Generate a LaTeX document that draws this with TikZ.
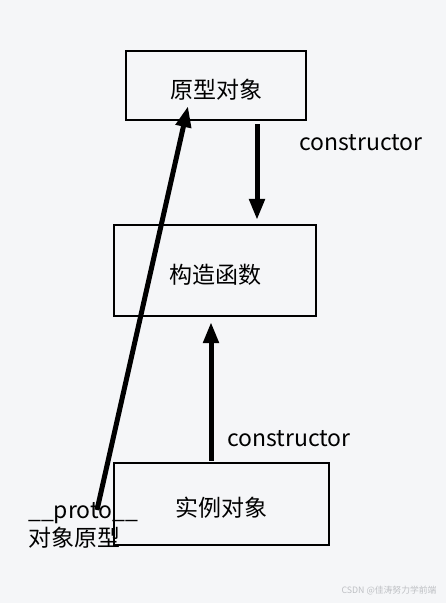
\documentclass[tikz,border=0pt]{standalone}
\usepackage{fontspec}
\usepackage{tikz}
\usetikzlibrary{arrows.meta}
\setmainfont{Noto Sans CJK SC}
\definecolor{protobg}{RGB}{245,246,248}
\definecolor{protomark}{RGB}{190,192,196}

\begin{document}
\begin{tikzpicture}[x=1pt,y=-1pt,
    box/.style={draw,line width=2.2pt,inner sep=0pt,text height=29pt,text depth=4pt,font=\fontsize{23}{26}\selectfont},
    arr/.style={line width=5pt,-{Triangle[length=21pt,width=15pt]}},
    lbl/.style={font=\fontsize{23}{28}\selectfont,inner sep=0pt}]
  \fill[protobg] (0,0) rectangle (446,603);
  \useasboundingbox (0,0) rectangle (446,603);
  \node[box,minimum width=180pt,minimum height=69pt] (proto) at (216,85.5) {原型对象};
  \node[box,minimum width=202pt,minimum height=91pt] (ctor) at (215,270.5) {构造函数};
  \node[box,minimum width=215pt,minimum height=82pt] (inst) at (221.5,504) {实例对象};
  \node[lbl] (ctorlbl1) at (361,143) {constructor};
  \node[lbl] (ctorlbl2) at (289,439) {constructor};
  \node[lbl,anchor=north west,align=left] (protolbl) at (28,502) {\_\_proto\_\_\\对象原型};
  \coordinate (pstart) at (97,510);
  \draw[arr] ([xshift=41pt,yshift=-3pt]proto.south) -- ([xshift=42pt,yshift=4pt]ctor.north);
  \draw[arr] ([xshift=-10.5pt,yshift=1pt]inst.north) -- ([xshift=-4pt,yshift=-5pt]ctor.south);
  \draw[arr] (pstart) -- ([xshift=-28pt,yshift=15pt]proto.south);
  \node[font=\fontsize{8.8}{10}\selectfont,text=protomark,inner sep=0pt] (mark) at (389,591) {CSDN @佳涛努力学前端};
\end{tikzpicture}
\end{document}
